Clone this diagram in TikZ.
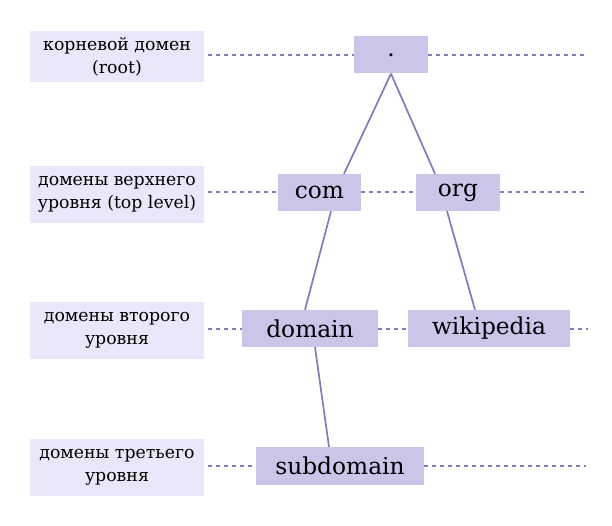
\documentclass[tikz,border=0pt]{standalone}
\usepackage{fontspec}
\setmainfont{DejaVu Serif}
\usetikzlibrary{calc}
\definecolor{nodefill}{RGB}{204,197,234}
\definecolor{labelfill}{RGB}{232,232,250}
\definecolor{linec}{RGB}{137,118,189}
\begin{document}
\begin{tikzpicture}[x=1pt,y=-1pt,
  dn/.style={fill=nodefill, inner sep=0pt, minimum height=37, font=\fontsize{23.3}{26}\selectfont},
  lbl/.style={fill=labelfill, inner sep=0pt, minimum width=174, minimum height=57, align=center, font=\fontsize{17.3}{23}\selectfont},
  dl/.style={draw=linec, line width=2pt, dash pattern=on 4pt off 4pt},
  edge/.style={draw=linec, line width=1.7pt}]
\useasboundingbox (0,0) rectangle (612,526);
% labels
\node[lbl, minimum height=51] (l1) at (117,56.5) {корневой домен\\(root)};
\node[lbl] (l2) at (117,194.5) {домены верхнего\\уровня (top level)};
\node[lbl] (l3) at (117,330.5) {домены второго\\уровня};
\node[lbl] (l4) at (117,467.5) {домены третьего\\уровня};
% domain nodes
\node[dn, minimum width=74] (root) at (391,55) {.};
\node[dn, minimum width=83] (com) at (319.5,192.5) {com};
\node[dn, minimum width=84] (org) at (458,192.5) {org};
\node[dn, minimum width=136] (domain) at (310,328.5) {domain};
\node[dn, minimum width=162] (wiki) at (489,328.5) {wikipedia};
\node[dn, minimum width=168, minimum height=38] (sub) at (340,466) {subdomain};
% free ends
\coordinate (r1) at (586,55);
\coordinate (r2) at (586,192.5);
\coordinate (r3) at (588,328.5);
\coordinate (r4) at (586,466);
% dashed level lines
\draw[dl] ([xshift=4pt]l1.east |- root.west) -- (root.west);
\draw[dl] (root.east) -- (r1);
\draw[dl] ([xshift=4pt]l2.east |- com.west) -- (com.west);
\draw[dl] (com.east) -- (org.west);
\draw[dl] (org.east) -- (r2);
\draw[dl] ([xshift=4pt]l3.east |- domain.west) -- (domain.west);
\draw[dl] (domain.east) -- (wiki.west);
\draw[dl] (wiki.east) -- (r3);
\draw[dl] ([xshift=4pt]l4.east |- sub.west) -- (sub.west);
\draw[dl] (sub.east) -- (r4);
% tree edges
\draw[edge] (root.south) -- ([xshift=24.5pt]com.north);
\draw[edge] (root.south) -- ([xshift=-23pt]org.north);
\draw[edge] ([xshift=11.5pt]com.south) -- ([xshift=-5pt]domain.north);
\draw[edge] ([xshift=-11pt]org.south) -- ([xshift=-14pt]wiki.north);
\draw[edge] ([xshift=5pt]domain.south) -- ([xshift=-11pt]sub.north);
\end{tikzpicture}
\end{document}
